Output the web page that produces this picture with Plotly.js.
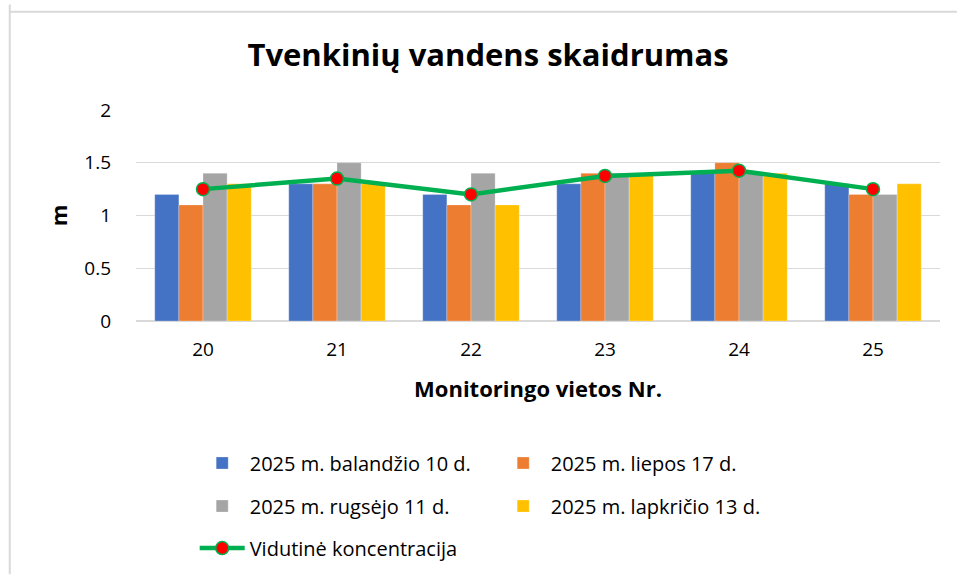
<!DOCTYPE html>
<html>
<head>
<meta charset="utf-8">
<script src="https://cdn.plot.ly/plotly-3.0.1.min.js"></script>
<style>
html,body{margin:0;padding:0;background:#fff;}
#chart{width:957px;height:581px;}
</style>
</head>
<body>
<div id="chart"></div>
<script>
const categories = ["20", "21", "22", "23", "24", "25"];
const seriesNames = ["2025 m. balandžio 10 d.", "2025 m. liepos 17 d.", "2025 m. rugsėjo 11 d.", "2025 m. lapkričio 13 d."];
const balandzio = [1.2, 1.3, 1.2, 1.3, 1.4, 1.3];
const liepos = [1.1, 1.3, 1.1, 1.4, 1.5, 1.2];
const rugsejo = [1.4, 1.5, 1.4, 1.4, 1.4, 1.2];
const lapkricio = [1.3, 1.3, 1.1, 1.4, 1.4, 1.3];
const vidutine = [1.25, 1.35, 1.2, 1.375, 1.425, 1.25];
const lineName = "Vidutinė koncentracija";
const yTicks = [0, 0.5, 1, 1.5, 2];
const colors = ["#4472C4", "#ED7D31", "#A5A5A5", "#FFC000"];

const seriesValues = [balandzio, liepos, rugsejo, lapkricio];
const legendIds = ["legend", "legend", "legend2", "legend2"];
const traces = seriesValues.map((vals, i) => ({
  type: "bar",
  x: categories,
  y: vals,
  name: seriesNames[i],
  legend: legendIds[i],
  marker: {color: colors[i], line: {color: "rgba(255,255,255,0.5)", width: 0.5}},
  hoverinfo: "y"
}));
traces.push({
  type: "scatter",
  mode: "lines+markers",
  x: categories,
  y: vidutine,
  name: lineName,
  legend: "legend3",
  line: {color: "#00B050", width: 4.5},
  marker: {color: "#FF0000", size: 13, line: {color: "#00B050", width: 1.5}}
});

const font = "'Open Sans', sans-serif";
const legendBase = {
  orientation: "h",
  x: 0.073, xanchor: "left",
  yanchor: "middle",
  entrywidth: 241,
  entrywidthmode: "pixels",
  traceorder: "normal",
  itemwidth: 45,
  font: {size: 20, color: "#000", family: font},
  bgcolor: "rgba(0,0,0,0)"
};
const layout = {
  width: 957,
  height: 581,
  margin: {l: 136, r: 17, t: 110, b: 260},
  paper_bgcolor: "#fff",
  plot_bgcolor: "#fff",
  font: {family: font, size: 19, color: "#000"},
  title: {
    text: "<b>Tvenkinių vandens skaidrumas</b>",
    font: {size: 31, color: "#000", family: font},
    x: 0.51, xanchor: "center", y: 0.905, yanchor: "middle"
  },
  barmode: "group",
  bargap: 0.28,
  bargroupgap: 0,
  xaxis: {
    type: "category",
    showgrid: false,
    showline: false,
    zeroline: false,
    ticks: "",
    ticklabelstandoff: 15,
    tickfont: {size: 19},
    title: {text: "<b>Monitoringo vietos Nr.</b>", font: {size: 22}, standoff: 20}
  },
  yaxis: {
    range: [0, 2.0],
    tickvals: yTicks,
    ticktext: yTicks.map(String),
    showgrid: true,
    gridcolor: "#D9D9D9",
    gridwidth: 1.3,
    zeroline: true,
    zerolinecolor: "#D9D9D9",
    zerolinewidth: 1.3,
    showline: false,
    ticks: "",
    ticklabelstandoff: 24,
    tickfont: {size: 19},
    title: {text: "<b>m</b>", font: {size: 22}, standoff: 10}
  },
  showlegend: true,
  legend: Object.assign({}, legendBase, {y: -0.673}),
  legend2: Object.assign({}, legendBase, {y: -0.877}),
  legend3: Object.assign({}, legendBase, {y: -1.076}),
  shapes: [
    {type: "line", xref: "paper", yref: "paper", x0: -0.157, x1: -0.157, y0: -1.20, y1: 1.50,
     line: {color: "#D9D9D9", width: 2}},
    {type: "line", xref: "paper", yref: "paper", x0: -0.157, x1: 1.1, y0: 1.4655, y1: 1.4655,
     line: {color: "#D9D9D9", width: 2}}
  ]
};

Plotly.newPlot("chart", traces, layout, {displayModeBar: false, staticPlot: true});
</script>
</body>
</html>
